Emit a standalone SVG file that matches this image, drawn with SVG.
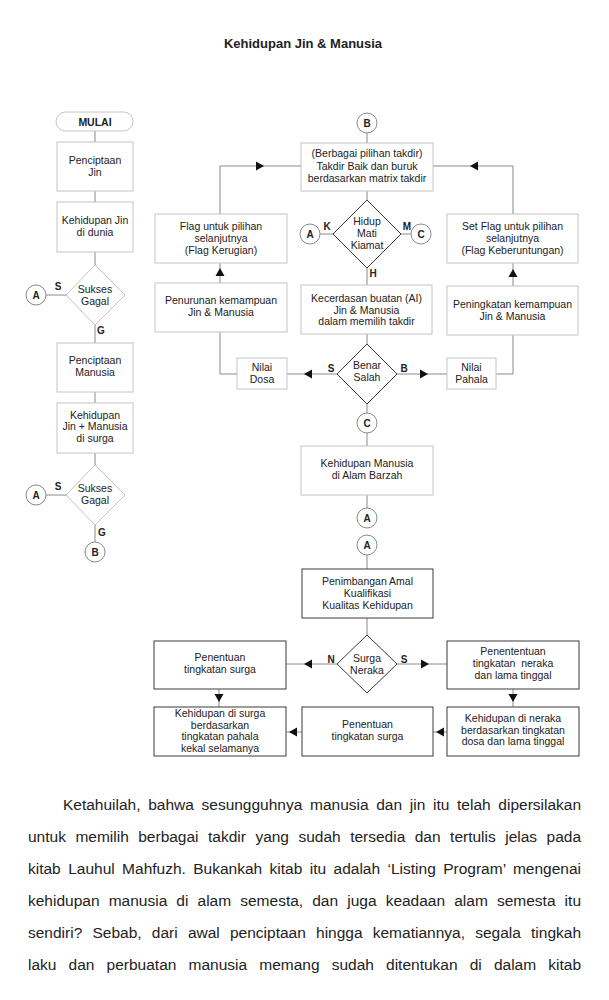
<svg xmlns="http://www.w3.org/2000/svg" xmlns:xlink="http://www.w3.org/1999/xlink" width="609" height="1000" viewBox="0 0 609 1000">
<style>
text{font-family:"Liberation Sans",Arial,sans-serif;fill:#222}
.t{font-size:10.5px;text-anchor:middle}
.b{font-size:10.5px;font-weight:bold;text-anchor:middle}
.lb{font-size:10px;font-weight:bold;text-anchor:middle}
.title{font-size:13px;font-weight:bold;text-anchor:middle}
.p{font-size:15.5px}
.bx{fill:#fff;stroke:#c4c4c4;stroke-width:1}
.bxd{fill:#fff;stroke:#3a3a3a;stroke-width:1}
.dm{fill:#fff;stroke:#c4c4c4;stroke-width:1}
.dmd{fill:#fff;stroke:#3a3a3a;stroke-width:1}
.ci{fill:#fff;stroke:#8a8a8a;stroke-width:1}
.cn line,.cn polyline{stroke:#8a8a8a;stroke-width:1;fill:none}
.ah{fill:#111}
</style>
<defs>
<path id="ah" class="ah" d="M0,0 L-8,-4.5 L-8,4.5 Z"/>
</defs>

<text class="title" x="303" y="48">Kehidupan Jin &amp; Manusia</text>

<g id="connectors" class="cn">
<line x1="95" y1="131" x2="95" y2="142"/>
<line x1="95" y1="191" x2="95" y2="202"/>
<line x1="95" y1="252" x2="95" y2="265"/>
<line x1="46" y1="295" x2="66" y2="295"/>
<line x1="95" y1="325" x2="95" y2="343"/>
<line x1="95" y1="392" x2="95" y2="403"/>
<line x1="95" y1="453" x2="95" y2="465"/>
<line x1="46" y1="495" x2="66" y2="495"/>
<line x1="95" y1="525" x2="95" y2="542"/>
<line x1="367" y1="133" x2="367" y2="143"/>
<polyline points="301,166 220,166 220,214"/>
<polyline points="433,166 513,166 513,214"/>
<line x1="367" y1="191" x2="367" y2="200"/>
<line x1="320" y1="234" x2="333" y2="234"/>
<line x1="401" y1="234" x2="411" y2="234"/>
<line x1="367" y1="268" x2="367" y2="285"/>
<line x1="367" y1="334" x2="367" y2="344"/>
<line x1="337" y1="374" x2="287" y2="374"/>
<line x1="397" y1="374" x2="447" y2="374"/>
<polyline points="237,374 220,374 220,332"/>
<line x1="220" y1="283" x2="220" y2="263"/>
<polyline points="496,374 513,374 513,335"/>
<line x1="513" y1="286" x2="513" y2="263"/>
<line x1="367" y1="404" x2="367" y2="413"/>
<line x1="367" y1="433" x2="367" y2="446"/>
<line x1="367" y1="495" x2="367" y2="508"/>
<line x1="367" y1="555" x2="367" y2="569"/>
<line x1="367" y1="618" x2="367" y2="635"/>
<line x1="337" y1="664" x2="286" y2="664"/>
<line x1="397" y1="664" x2="447" y2="664"/>
<line x1="219" y1="689" x2="219" y2="707"/>
<line x1="513" y1="689" x2="513" y2="707"/>
<line x1="447" y1="732" x2="433" y2="732"/>
<line x1="302" y1="732" x2="286" y2="732"/>
<use xlink:href="#ah" href="#ah" transform="translate(264,166)"/>
<use xlink:href="#ah" href="#ah" transform="translate(470,166) rotate(180)"/>
<use xlink:href="#ah" href="#ah" transform="translate(220,268) rotate(-90)"/>
<use xlink:href="#ah" href="#ah" transform="translate(513,269) rotate(-90)"/>
<use xlink:href="#ah" href="#ah" transform="translate(304,374) rotate(180)"/>
<use xlink:href="#ah" href="#ah" transform="translate(428,374)"/>
<use xlink:href="#ah" href="#ah" transform="translate(304,664) rotate(180)"/>
<use xlink:href="#ah" href="#ah" transform="translate(429,664)"/>
<use xlink:href="#ah" href="#ah" transform="translate(219,702) rotate(90)"/>
<use xlink:href="#ah" href="#ah" transform="translate(513,702) rotate(90)"/>
<use xlink:href="#ah" href="#ah" transform="translate(436,732) rotate(180)"/>
<use xlink:href="#ah" href="#ah" transform="translate(289,732) rotate(180)"/>
</g>

<g id="labels">
<text class="lb" x="58" y="290">S</text>
<text class="lb" x="101" y="334">G</text>
<text class="lb" x="58" y="490">S</text>
<text class="lb" x="102" y="536">G</text>
<text class="lb" x="327" y="230">K</text>
<text class="lb" x="407" y="230">M</text>
<text class="lb" x="373" y="277">H</text>
<text class="lb" x="331" y="372">S</text>
<text class="lb" x="404" y="372">B</text>
<text class="lb" x="331" y="663">N</text>
<text class="lb" x="404" y="663">S</text>
</g>

<g id="mulai"><rect x="56" y="112" width="77" height="19" rx="9.5" class="bx"/><text class="b" x="95" y="125.5">MULAI</text></g>
<g id="penciptaan-jin"><rect x="57" y="142" width="76" height="49" class="bx"/><text class="t" x="95" y="164">Penciptaan</text><text class="t" x="95" y="175.5">Jin</text></g>
<g id="kehidupan-jin"><rect x="57" y="202" width="76" height="50" class="bx"/><text class="t" x="95" y="224">Kehidupan Jin</text><text class="t" x="95" y="236">di dunia</text></g>
<g id="sukses1"><polygon points="95,265 125,295 95,325 66,295" class="dm"/><text class="t" x="95" y="292.5">Sukses</text><text class="t" x="95" y="304.5">Gagal</text></g>
<g id="a1"><circle cx="36" cy="295" r="10" class="ci"/><text class="lb" x="36" y="298.5">A</text></g>
<g id="penciptaan-manusia"><rect x="57" y="343" width="76" height="49" class="bx"/><text class="t" x="95" y="364">Penciptaan</text><text class="t" x="95" y="376">Manusia</text></g>
<g id="kehidupan-surga"><rect x="57" y="403" width="76" height="50" class="bx"/><text class="t" x="95" y="418.5">Kehidupan</text><text class="t" x="95" y="430">Jin + Manusia</text><text class="t" x="95" y="441.5">di surga</text></g>
<g id="sukses2"><polygon points="95,465 125,495 95,525 66,495" class="dm"/><text class="t" x="95" y="492">Sukses</text><text class="t" x="95" y="504">Gagal</text></g>
<g id="a2"><circle cx="36" cy="495" r="10" class="ci"/><text class="lb" x="36" y="498.5">A</text></g>
<g id="b1"><circle cx="95" cy="552" r="10" class="ci"/><text class="lb" x="95" y="555.5">B</text></g>

<g id="b2"><circle cx="367" cy="123" r="10" class="ci"/><text class="lb" x="367" y="126.5">B</text></g>
<g id="berbagai"><rect x="301" y="143" width="132" height="48" class="bx"/><text class="t" x="367" y="157">(Berbagai pilihan takdir)</text><text class="t" x="367" y="169.5">Takdir Baik dan buruk</text><text class="t" x="367" y="182">berdasarkan matrix takdir</text></g>
<g id="flag-kerugian"><rect x="155" y="214" width="132" height="49" class="bx"/><text class="t" x="221" y="230">Flag untuk pilihan</text><text class="t" x="221" y="242">selanjutnya</text><text class="t" x="221" y="254">(Flag Kerugian)</text></g>
<g id="flag-keberuntungan"><rect x="447" y="214" width="131" height="49" class="bx"/><text class="t" x="512.5" y="230">Set Flag untuk pilihan</text><text class="t" x="512.5" y="242">selanjutnya</text><text class="t" x="512.5" y="254">(Flag Keberuntungan)</text></g>
<g id="hidup"><polygon points="367,200 401,234 367,268 333,234" class="dmd"/><text class="t" x="367" y="225">Hidup</text><text class="t" x="367" y="237">Mati</text><text class="t" x="367" y="248.5">Kiamat</text></g>
<g id="a3"><circle cx="310" cy="234" r="10" class="ci"/><text class="lb" x="310" y="237.5">A</text></g>
<g id="c1"><circle cx="421" cy="234" r="10" class="ci"/><text class="lb" x="421" y="237.5">C</text></g>
<g id="kecerdasan"><rect x="301" y="285" width="131" height="49" class="bx"/><text class="t" x="366.5" y="302">Kecerdasan buatan (AI)</text><text class="t" x="366.5" y="313.5">Jin &amp; Manusia</text><text class="t" x="366.5" y="325">dalam memilih takdir</text></g>
<g id="penurunan"><rect x="155" y="283" width="132" height="49" class="bx"/><text class="t" x="221" y="304">Penurunan kemampuan</text><text class="t" x="221" y="316">Jin &amp; Manusia</text></g>
<g id="peningkatan"><rect x="447" y="286" width="131" height="49" class="bx"/><text class="t" x="512.5" y="308">Peningkatan kemampuan</text><text class="t" x="512.5" y="320">Jin &amp; Manusia</text></g>
<g id="benar"><polygon points="367,344 397,374 367,404 337,374" class="dmd"/><text class="t" x="367" y="369">Benar</text><text class="t" x="367" y="380.5">Salah</text></g>
<g id="dosa"><rect x="237" y="358" width="50" height="31" class="bx"/><text class="t" x="262" y="371">Nilai</text><text class="t" x="262" y="382.5">Dosa</text></g>
<g id="pahala"><rect x="447" y="358" width="49" height="31" class="bx"/><text class="t" x="471.5" y="371">Nilai</text><text class="t" x="471.5" y="382.5">Pahala</text></g>
<g id="c2"><circle cx="367" cy="423" r="10" class="ci"/><text class="lb" x="367" y="426.5">C</text></g>
<g id="barzah"><rect x="301" y="446" width="132" height="49" class="bx"/><text class="t" x="367" y="467">Kehidupan Manusia</text><text class="t" x="367" y="479">di Alam Barzah</text></g>
<g id="a4"><circle cx="367" cy="518" r="10" class="ci"/><text class="lb" x="367" y="521.5">A</text></g>
<g id="a5"><circle cx="367" cy="545" r="10" class="ci"/><text class="lb" x="367" y="548.5">A</text></g>
<g id="penimbangan"><rect x="302" y="569" width="131" height="49" class="bxd"/><text class="t" x="367.5" y="585">Penimbangan Amal</text><text class="t" x="367.5" y="597">Kualifikasi</text><text class="t" x="367.5" y="608.5">Kualitas Kehidupan</text></g>
<g id="surga-neraka"><polygon points="367,635 397,664 367,693 337,664" class="dmd"/><text class="t" x="367" y="661.5">Surga</text><text class="t" x="367" y="673.5">Neraka</text></g>
<g id="tingkat-surga"><rect x="154" y="641" width="132" height="48" class="bxd"/><text class="t" x="220" y="661">Penentuan</text><text class="t" x="220" y="673">tingkatan surga</text></g>
<g id="tingkat-neraka"><rect x="447" y="641" width="132" height="48" class="bxd"/><text class="t" x="513" y="655">Penententuan</text><text class="t" x="513" y="667" xml:space="preserve">tingkatan  neraka</text><text class="t" x="513" y="678.5">dan lama tinggal</text></g>
<g id="hidup-surga"><rect x="154" y="707" width="132" height="49" class="bxd"/><text class="t" x="220" y="717">Kehidupan di surga</text><text class="t" x="220" y="728.5">berdasarkan</text><text class="t" x="220" y="740">tingkatan pahala</text><text class="t" x="220" y="751.5">kekal selamanya</text></g>
<g id="penentuan-mid"><rect x="302" y="707" width="131" height="49" class="bxd"/><text class="t" x="367.5" y="728">Penentuan</text><text class="t" x="367.5" y="739.5">tingkatan surga</text></g>
<g id="hidup-neraka"><rect x="447" y="707" width="132" height="49" class="bxd"/><text class="t" x="513" y="722">Kehidupan di neraka</text><text class="t" x="513" y="733.5">berdasarkan tingkatan</text><text class="t" x="513" y="745">dosa dan lama tinggal</text></g>

<g id="paragraph" class="p">
<text x="63" y="810" word-spacing="3.4" textLength="518" lengthAdjust="spacing">Ketahuilah, bahwa sesungguhnya manusia dan jin itu telah dipersilakan</text>
<text x="28" y="842" word-spacing="5.2" textLength="553" lengthAdjust="spacing">untuk memilih berbagai takdir yang sudah tersedia dan tertulis jelas pada</text>
<text x="28" y="874" word-spacing="3.1" textLength="553" lengthAdjust="spacing">kitab Lauhul Mahfuzh. Bukankah kitab itu adalah ‘Listing Program’ mengenai</text>
<text x="28" y="906" word-spacing="4.8" textLength="553" lengthAdjust="spacing">kehidupan manusia di alam semesta, dan juga keadaan alam semesta itu</text>
<text x="28" y="938" word-spacing="5.9" textLength="553" lengthAdjust="spacing">sendiri? Sebab, dari awal penciptaan hingga kematiannya, segala tingkah</text>
<text x="28" y="970" word-spacing="7.8" textLength="553" lengthAdjust="spacing">laku dan perbuatan manusia memang sudah ditentukan di dalam kitab</text>
</g>
</svg>
